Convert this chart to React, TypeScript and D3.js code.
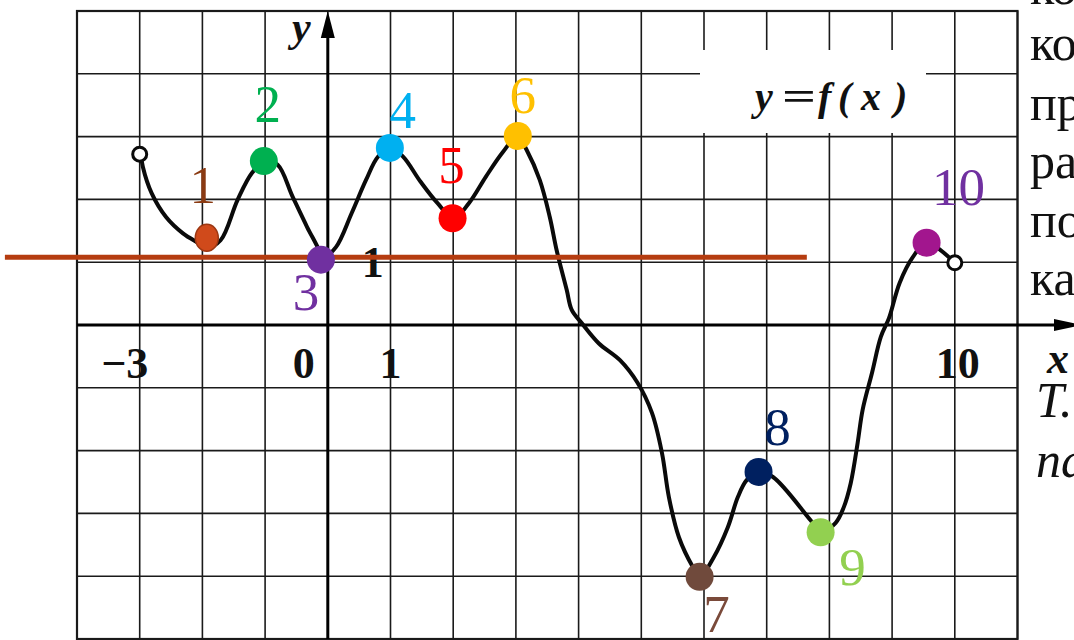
import React from "react";
import * as d3 from "d3";

// ---- Data ----
const curveX = [-2.98, -2.95, -2.81, -2.58, -2.31, -2.07, -1.93, -1.71, -1.44, -1.21, -1.0, -0.8, -0.56, -0.33, -0.14, -0.1, 0.13, 0.38, 0.61, 0.8, 1.0, 1.2, 1.48, 1.75, 2.01, 2.25, 2.52, 2.79, 3.03, 3.17, 3.38, 3.54, 3.65, 3.81, 3.89, 4.05, 4.32, 4.66, 4.94, 5.17, 5.33, 5.44, 5.6, 5.82, 5.93, 6.16, 6.38, 6.54, 6.68, 6.87, 7.1, 7.7, 7.86, 8.1, 8.23, 8.34, 8.45, 8.53, 8.68, 8.82, 8.95, 9.12, 9.33, 9.55, 10.0];
const curveY = [2.72, 2.52, 2.1, 1.72, 1.46, 1.31, 1.23, 1.35, 1.99, 2.42, 2.61, 2.55, 2.04, 1.56, 1.19, 1.05, 1.24, 1.78, 2.31, 2.68, 2.82, 2.68, 2.28, 1.94, 1.7, 1.94, 2.36, 2.75, 3.01, 2.79, 2.31, 1.72, 1.19, 0.56, 0.24, 0.03, -0.29, -0.56, -0.92, -1.4, -2.04, -2.74, -3.38, -3.85, -4.01, -3.69, -3.22, -2.74, -2.47, -2.34, -2.42, -3.11, -3.3, -3.15, -2.9, -2.52, -1.88, -1.35, -0.76, -0.19, 0.11, 0.67, 1.08, 1.31, 0.99];

const openPointsX = [-3, 10];
const openPointsY = [2.72, 0.99];

const pointLabels = ["1", "2", "3", "4", "5", "6", "7", "8", "9", "10"];
const pointX = [-1.93, -1.02, -0.11, 0.99, 1.99, 3.03, 5.93, 6.87, 7.86, 9.55];
const pointY = [1.39, 2.61, 1.04, 2.82, 1.7, 3.01, -4.01, -2.34, -3.3, 1.31];
const pointColors = ["#d04a1b", "#00b050", "#7030a0", "#00b0f0", "#ff0000", "#ffc000", "#704a3c", "#002060", "#92d050", "#a2168e"];
const labelColors = ["#8a3a12", "#00b050", "#7030a0", "#00b0f0", "#ff0000", "#ffc000", "#7a4a3a", "#002060", "#92d050", "#7030a0"];
const labelDx = [-4, 4, -15, 13, -1, 5, 17, 19, 32, 32];
const labelDy = [-35, -39, 50, -20, -35, -23, 55, -27, 53, -38];

const levelY = 1.08;
const levelXFrom = -5.15;
const levelXTo = 7.64;

const xTickValues = [-3, 0, 1, 10];
const xTickTexts = ["\u22123", "0", "1", "10"];
const xTickDx = [-15, -24, 0, 3];
const yTickValues = [1];
const yTickTexts = ["1"];

const formulaParts = ["y", "=", "f", "(", "x", ")"];
const formulaXs = [755, 782, 818, 838, 861, 894];

const sideLines = ["ко", "ко", "пр", "ра", "по", "ка"];
const sideBaselines = [4, 60, 120, 178, 237, 295];
const sideItalic = ["T.", "па"];
const sideItalicBaselines = [417, 477];

const gridXs = d3.range(-4, 12);
const gridYs = d3.range(-5, 6);

export default function App() {
  const W = 1074, H = 640;
  const x = d3.scaleLinear().domain([-4, 11]).range([77, 1017.5]);
  const y = d3.scaleLinear().domain([-5, 5]).range([639, 11]);

  const pts: [number, number][] = curveX.map((v, i) => [x(v), y(curveY[i])]);
  const line = d3.line().curve(d3.curveCatmullRom.alpha(0.5));
  const pathD = line(pts) || "";

  const serif = "'Liberation Serif', 'DejaVu Serif', serif";
  const gridColor = "#1a1a1a";

  return (
    <div style={{ position: "fixed", left: 0, top: 0, width: W, height: H, background: "#fff" }}>
      <svg width={W} height={H} viewBox={`0 0 ${W} ${H}`} style={{ display: "block" }}>
        <rect x={0} y={0} width={W} height={H} fill="#fff" />
        {/* grid */}
        <g stroke={gridColor} strokeWidth={1.6}>
          {gridXs.map((v) => (
            <line key={"gx" + v} x1={x(v)} x2={x(v)} y1={y(-5)} y2={y(5)} />
          ))}
          {gridYs.map((v) => (
            <line key={"gy" + v} x1={x(-4)} x2={x(11)} y1={y(v)} y2={y(v)} />
          ))}
        </g>
        <rect x={x(-4)} y={y(5)} width={x(11) - x(-4)} height={y(-5) - y(5)} fill="none" stroke={gridColor} strokeWidth={2.2} />
        {/* white box for the formula */}
        <rect x={700} y={50} width={226} height={83} fill="#fff" />
        {formulaParts.map((t, i) =>
          t === "=" ? (
            <text key={"f" + i} transform={`translate(${formulaXs[i]},110) scale(1.5,1)`} fontFamily={serif} fontWeight="bold" fontSize={40} fill="#111">{t}</text>
          ) : (
            <text key={"f" + i} x={formulaXs[i]} y={110} fontFamily={serif} fontWeight="bold" fontStyle="italic" fontSize={40} fill="#111">{t}</text>
          )
        )}
        {/* axes */}
        <line x1={x(-4)} x2={1058} y1={y(0)} y2={y(0)} stroke="#000" strokeWidth={3} />
        <path d={`M1082,${y(0)} L1054,${y(0) - 6} L1054,${y(0) + 6} Z`} fill="#000" />
        <line x1={x(0)} x2={x(0)} y1={y(-5)} y2={36} stroke="#000" strokeWidth={3} />
        <path d={`M${x(0)},11 L${x(0) - 7},38 L${x(0) + 7},38 Z`} fill="#000" />
        <text x={292} y={41} fontFamily={serif} fontWeight="bold" fontStyle="italic" fontSize={42} fill="#111">y</text>
        <text x={1047} y={373} fontFamily={serif} fontWeight="bold" fontStyle="italic" fontSize={44} fill="#111">x</text>
        {/* tick labels */}
        {xTickValues.map((v, i) => (
          <text key={"xt" + i} x={x(v) + xTickDx[i]} y={378} textAnchor="middle" fontFamily={serif} fontWeight="bold" fontSize={44} fill="#111">
            {xTickTexts[i]}
          </text>
        ))}
        {yTickValues.map((v, i) => (
          <text key={"yt" + i} x={x(0) + 45} y={y(v) + 15} textAnchor="middle" fontFamily={serif} fontWeight="bold" fontSize={44} fill="#111">
            {yTickTexts[i]}
          </text>
        ))}
        {/* curve */}
        <path d={pathD} fill="none" stroke="#0a0a0a" strokeWidth={4} strokeLinejoin="round" strokeLinecap="round" />
        {openPointsX.map((v, i) => (
          <circle key={"op" + i} cx={x(v)} cy={y(openPointsY[i])} r={7} fill="#fff" stroke="#0a0a0a" strokeWidth={3} />
        ))}
        {/* level line */}
        <line x1={x(levelXFrom)} x2={x(levelXTo)} y1={y(levelY)} y2={y(levelY)} stroke="#b53c10" strokeWidth={5} />
        {/* colored points */}
        {pointX.map((v, i) =>
          i === 0 ? (
            <ellipse key={"p" + i} cx={x(v)} cy={y(pointY[i])} rx={11.5} ry={13.5} fill={pointColors[i]} stroke="#9c3712" strokeWidth={1.5} />
          ) : (
            <circle key={"p" + i} cx={x(v)} cy={y(pointY[i])} r={14} fill={pointColors[i]} />
          )
        )}
        {pointX.map((v, i) => (
          <text key={"pl" + i} x={x(v) + labelDx[i]} y={y(pointY[i]) + labelDy[i]} textAnchor="middle" fontFamily={serif} fontSize={53} fill={labelColors[i]}>
            {pointLabels[i]}
          </text>
        ))}
        {/* side text from the book page */}
        {sideLines.map((t, i) => (
          <text key={"s" + i} x={1030} y={sideBaselines[i]} fontFamily={serif} fontSize={50} fill="#111">{t}</text>
        ))}
        {sideItalic.map((t, i) => (
          <text key={"si" + i} x={1036} y={sideItalicBaselines[i]} fontFamily={serif} fontStyle="italic" fontSize={50} fill="#111">{t}</text>
        ))}
      </svg>
    </div>
  );
}
